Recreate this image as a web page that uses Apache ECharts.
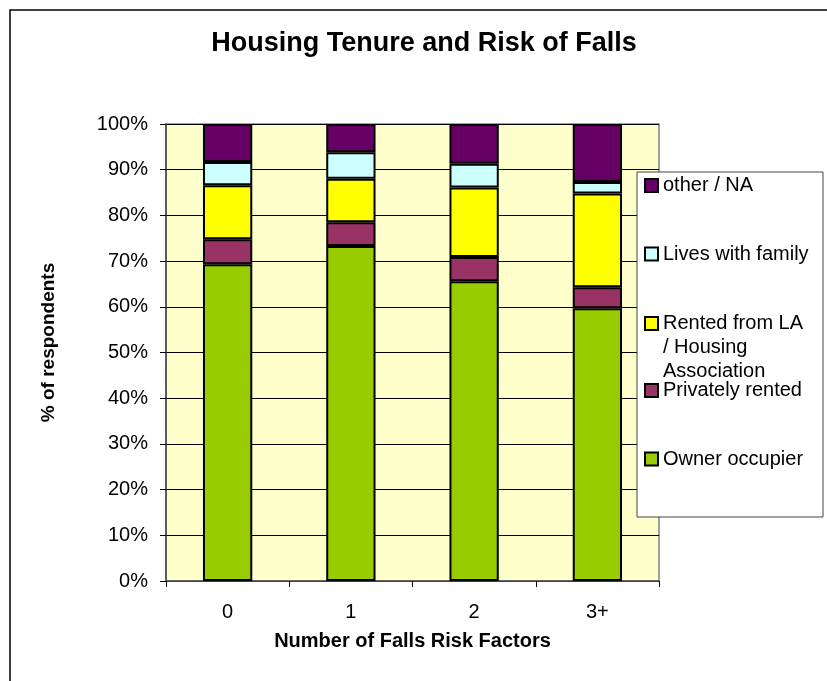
<!DOCTYPE html>
<html>
<head>
<meta charset="utf-8">
<script src="https://cdn.jsdelivr.net/npm/echarts@6/dist/echarts.min.js"></script>
<style>
  html,body{margin:0;padding:0;background:#ffffff;}
  #chart{width:827px;height:681px;}
</style>
</head>
<body>
<div id="chart"></div>
<script>
// categories on the x axis
const categories=['0','1','2','3+'];
// percentage of respondents per housing tenure (stacked from bottom)
const ownerOccupier=[69.3,73.3,65.6,59.7];
const privatelyRented=[5.5,5.2,5.3,4.6];
const rentedLA=[11.8,9.5,15.2,20.5];
const livesWithFamily=[5.1,5.8,5.2,2.5];
const otherNA=[8.3,6.2,8.7,12.7];
const yTicks=[0,10,20,30,40,50,60,70,80,90,100];

const FONT='"Liberation Sans", Arial, sans-serif';

const seriesDefs=[
  {name:'Owner occupier',data:ownerOccupier,color:'#99CC00'},
  {name:'Privately rented',data:privatelyRented,color:'#993366'},
  {name:'Rented from LA / Housing Association',data:rentedLA,color:'#FFFF00'},
  {name:'Lives with family',data:livesWithFamily,color:'#CCFFFF'},
  {name:'other / NA',data:otherNA,color:'#660066'}
];

//legend rows: top to bottom, icon centre y
//the wrapped one gets two blank lines on top so its first line sits by the icon
const legendRows=[
  {name:'other / NA',cy:185.5},
  {name:'Lives with family',cy:254},
  {name:'Rented from LA / Housing Association',cy:323.5,text:'\n\nRented from LA\n/ Housing\nAssociation'},
  {name:'Privately rented',cy:390.5},
  {name:'Owner occupier',cy:459}
];

const myChart=echarts.init(document.getElementById('chart'));

const option={
  animation:false,
  backgroundColor:'#ffffff',
  title:{
    text:'Housing Tenure and Risk of Falls',
    left:424,
    top:30,
    padding:0,
    textAlign:'center',
    textStyle:{fontFamily:FONT,fontSize:27,fontWeight:'bold',color:'#000'}
  },
  grid:{
    left:166,right:168,top:124,bottom:100,
    show:true,
    backgroundColor:'#FFFFCC',
    borderColor:'#808080',
    borderWidth:1.5
  },
  legend:legendRows.map(function(row){
    const multi=!!row.text;
    return {
      data:[row.name],
      orient:'vertical',
      left:644,
      top:multi?row.cy-60:row.cy-12,
      padding:0,
      itemWidth:13,
      itemHeight:13,
      itemGap:0,
      icon:'rect',
      selectedMode:false,
      formatter:function(n){return row.text||n;},
      textStyle:{fontFamily:FONT,fontSize:20,color:'#000',lineHeight:24}
    };
  }),
  xAxis:{
    type:'category',
    data:categories,
    name:'Number of Falls Risk Factors',
    nameLocation:'middle',
    nameGap:50,
    nameTextStyle:{fontFamily:FONT,fontSize:20,fontWeight:'bold',color:'#000'},
    axisLine:{lineStyle:{color:'#555',width:1.5}},
    axisTick:{show:true,length:6,lineStyle:{color:'#000'}},
    axisLabel:{fontFamily:FONT,fontSize:20,color:'#000',margin:21}
  },
  yAxis:{
    type:'value',
    min:yTicks[0],
    max:yTicks[yTicks.length-1],
    interval:yTicks[1]-yTicks[0],
    name:'% of respondents',
    nameLocation:'middle',
    nameRotate:90,
    nameGap:108,
    nameTextStyle:{fontFamily:FONT,fontSize:19,fontWeight:'bold',color:'#000',padding:[0,0,0,20]},
    axisLine:{show:true,lineStyle:{color:'#444',width:1.5}},
    axisTick:{show:true,length:6,lineStyle:{color:'#000'}},
    axisLabel:{fontFamily:FONT,fontSize:20,color:'#000',margin:18,formatter:'{value}%'},
    splitLine:{show:true,lineStyle:{color:'#000',width:1}}
  },
  graphic:[
    {
      type:'polyline',
      shape:{points:[[10,681],[10,10],[827,10]]},
      style:{fill:null,stroke:'#000',lineWidth:1.5},
      z:1
    },
    {
      type:'rect',
      shape:{x:637,y:172,width:186,height:345},
      style:{fill:'#ffffff',stroke:'#444',lineWidth:1},
      z:3
    }
  ],
  series:seriesDefs.map(function(s){
    return {
      name:s.name,
      type:'bar',
      stack:'total',
      barWidth:'40%',
      data:s.data,
      itemStyle:{color:s.color,borderColor:'#000',borderWidth:2}
    };
  })
};

myChart.setOption(option);
</script>
</body>
</html>
